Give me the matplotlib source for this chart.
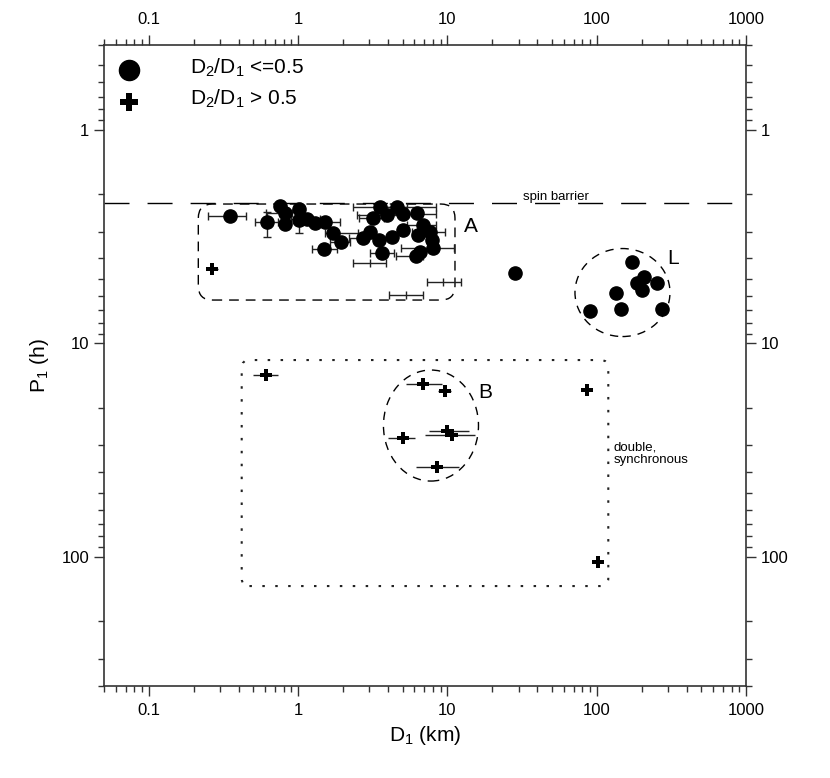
import matplotlib
matplotlib.use("Agg")
import matplotlib.pyplot as plt
from matplotlib.patches import Ellipse, FancyBboxPatch
from matplotlib.ticker import FixedLocator, FuncFormatter, LogLocator, NullFormatter

plt.rcParams["font.family"] = ["Liberation Sans", "DejaVu Sans"]
plt.rcParams["mathtext.fontset"] = "custom"
plt.rcParams["mathtext.rm"] = "Liberation Sans"
plt.rcParams["mathtext.it"] = "Liberation Sans:italic"

# D2/D1 <= 0.5 (filled circles): diameter (km), period (h), x error minus/plus
circ_D = [0.35, 0.62, 0.76, 0.81, 0.81, 1.01, 1.01, 1.15, 1.30, 1.52, 1.72, 1.93, 1.50,
          2.70, 3.03, 3.16, 3.53, 3.92, 3.49, 3.62, 4.23, 4.61, 5.06, 5.06, 6.22, 6.89,
          6.37, 7.63, 7.84, 8.03, 6.54, 6.15, 28.3,
          171, 207, 185, 200, 254, 134.5, 144.5, 90, 272]
circ_P = [2.53, 2.71, 2.28, 2.46, 2.76, 2.36, 2.65, 2.63, 2.74, 2.70, 3.05, 3.34, 3.62,
          3.22, 3.02, 2.60, 2.29, 2.51, 3.28, 3.79, 3.17, 2.29, 2.49, 2.95, 2.45, 2.79,
          3.11, 3.00, 3.28, 3.59, 3.72, 3.90, 4.67,
          4.17, 4.87, 5.23, 5.62, 5.20, 5.83, 6.92, 7.03, 6.92]
circ_Dlo = [0.10, 0.11, 0, 0.20, 0, 0, 0, 0.25, 0, 0, 0.21, 0.30, 0.27,
            0.50, 0, 0.60, 1.19, 1.45, 0, 0.59, 0, 1.20, 1.49, 0, 0, 1.50,
            0, 1.80, 0, 3.17, 0, 1.60, 0,
            10, 12, 0, 12, 15, 8, 9, 6, 16]
circ_Dhi = [0.10, 0.11, 0, 0.10, 0, 0, 0, 0.25, 0, 0.40, 0.81, 0.30, 0.31,
            0.50, 0, 0.60, 1.80, 1.14, 0, 0.76, 0, 3.79, 3.34, 0, 0, 1.50,
            0, 2.00, 0, 2.97, 0, 0.75, 0,
            10, 12, 0, 12, 15, 8, 9, 6, 16]
circ_Plo = [0, 0.29, 0, 0, 0, 0, 0, 0, 0, 0, 0, 0, 0,
            0, 0, 0, 0, 0, 0, 0, 0, 0, 0, 0, 0, 0,
            0, 0, 0, 0, 0, 0, 0,
            0, 0, 0, 0, 0, 0, 0, 0, 0]
circ_Phi = [0, 0.47, 0, 0, 0, 0, 0.40, 0, 0, 0, 0, 0, 0,
            0, 0, 0, 0, 0, 0, 0, 0, 0, 0, 0, 0, 0,
            0, 0, 0, 0, 0, 0, 0,
            0, 0, 0, 0, 0, 0, 0, 0, 0]

# error bars drawn without a filled symbol
bar_D = [3.03, 5.27, 9.37]
bar_P = [4.22, 5.94, 5.14]
bar_Dlo = [0.69, 1.20, 2.11]
bar_Dhi = [0.84, 1.55, 2.88]

# D2/D1 > 0.5 (crosses)
cross_D = [0.263, 0.608, 6.82, 9.62, 85.6, 5.01, 9.97, 10.67, 8.55, 102]
cross_P = [4.50, 14.06, 15.54, 16.7, 16.6, 27.8, 25.7, 26.8, 37.8, 105]
cross_Dlo = [0.023, 0.108, 1.55, 0.94, 6.6, 1.03, 2.42, 3.60, 2.40, 7.0]
cross_Dhi = [0.027, 0.128, 2.32, 0.88, 6.4, 1.05, 4.03, 4.63, 3.45, 8.0]

spin_barrier = 2.2

fig = plt.figure(figsize=(8.3, 7.78), dpi=100)
ax = fig.add_axes([0.1253, 0.1186, 0.7735, 0.8239])
ax.set_xscale("log")
ax.set_yscale("log")
ax.set_xlim(0.05, 1000)
ax.set_ylim(400, 0.4)

ebkw = dict(ecolor="#222222", elinewidth=1.0, capsize=3.2, capthick=1.0)
ax.errorbar(circ_D, circ_P, xerr=[circ_Dlo, circ_Dhi], yerr=[circ_Plo, circ_Phi],
            fmt="o", color="black", ms=9.5, zorder=3, **ebkw)
ax.errorbar(bar_D, bar_P, xerr=[bar_Dlo, bar_Dhi], fmt="|", color="#222222",
            ms=6.4, mew=1.0, zorder=3, **ebkw)
ax.errorbar(cross_D, cross_P, xerr=[cross_Dlo, cross_Dhi], fmt="P", color="black",
            ms=8.5, mew=0, zorder=3, **ebkw)

ax.axhline(spin_barrier, color="black", lw=1.0, dashes=(18, 13))
ax.text(0.7037, 0.7577, "spin barrier", transform=ax.transAxes, ha="center",
        va="baseline", fontsize=9.5)

# grouping outlines
ax.add_patch(FancyBboxPatch((0.1469, 0.6017), 0.3998, 0.1498,
                            boxstyle="round,pad=0,rounding_size=0.022",
                            transform=ax.transAxes, fill=False, ec="black", lw=1.0,
                            linestyle=(0, (7, 5))))
ax.add_patch(FancyBboxPatch((0.2145, 0.1555), 0.5710, 0.3526,
                            boxstyle="round,pad=0,rounding_size=0.012",
                            transform=ax.transAxes, fill=False, ec="#222222", lw=1.5,
                            linestyle=(0, (1.2, 5.0))))
ax.add_patch(Ellipse((0.5093, 0.4059), 0.148, 0.1732, transform=ax.transAxes,
                     fill=False, ec="black", lw=1.0, linestyle=(0, (6, 5))))
ax.add_patch(Ellipse((0.8076, 0.6134), 0.148, 0.1373, transform=ax.transAxes,
                     fill=False, ec="black", lw=1.0, linestyle=(0, (6, 5))))

ax.text(0.571, 0.717, "A", transform=ax.transAxes, ha="center", va="center", fontsize=15)
ax.text(0.5935, 0.4577, "B", transform=ax.transAxes, ha="center", va="center", fontsize=15)
ax.text(0.8868, 0.6668, "L", transform=ax.transAxes, ha="center", va="center", fontsize=15)
ax.text(0.7933, 0.3615, "double,\nsynchronous", transform=ax.transAxes, ha="left",
        va="center", fontsize=9.5, linespacing=1.1)

# legend keys
ax.plot([0.0394], [0.9605], "o", color="black", ms=14.5, transform=ax.transAxes)
ax.plot([0.0394], [0.911], "P", color="black", ms=13, mew=0, transform=ax.transAxes)
ax.text(0.134, 0.9645, r"D$_2$/D$_1$ <=0.5", transform=ax.transAxes, va="center", fontsize=15)
ax.text(0.134, 0.915, r"D$_2$/D$_1$ > 0.5", transform=ax.transAxes, va="center", fontsize=15)

fmt = FuncFormatter(lambda v, _: f"{v:g}")
ax.xaxis.set_major_locator(FixedLocator([0.1, 1, 10, 100, 1000]))
ax.yaxis.set_major_locator(FixedLocator([1, 10, 100]))
ax.xaxis.set_major_formatter(fmt)
ax.yaxis.set_major_formatter(fmt)
for axis in (ax.xaxis, ax.yaxis):
    axis.set_minor_locator(LogLocator(base=10, subs=range(2, 10), numticks=20))
    axis.set_minor_formatter(NullFormatter())
ax.tick_params(which="both", direction="out", top=True, right=True,
               labeltop=True, labelright=True, width=1.0, labelsize=12, color="#333333")
ax.tick_params(axis="x", pad=5)
ax.tick_params(axis="y", pad=3)
ax.tick_params(which="major", length=7.5)
ax.tick_params(which="minor", length=4.5)
for sp in ax.spines.values():
    sp.set_linewidth(1.2)
    sp.set_color("#333333")

ax.set_xlabel(r"D$_1$ (km)", fontsize=15, labelpad=4)
ax.set_ylabel(r"P$_1$ (h)", fontsize=15, labelpad=8)

fig.savefig("out.png", dpi=100)
